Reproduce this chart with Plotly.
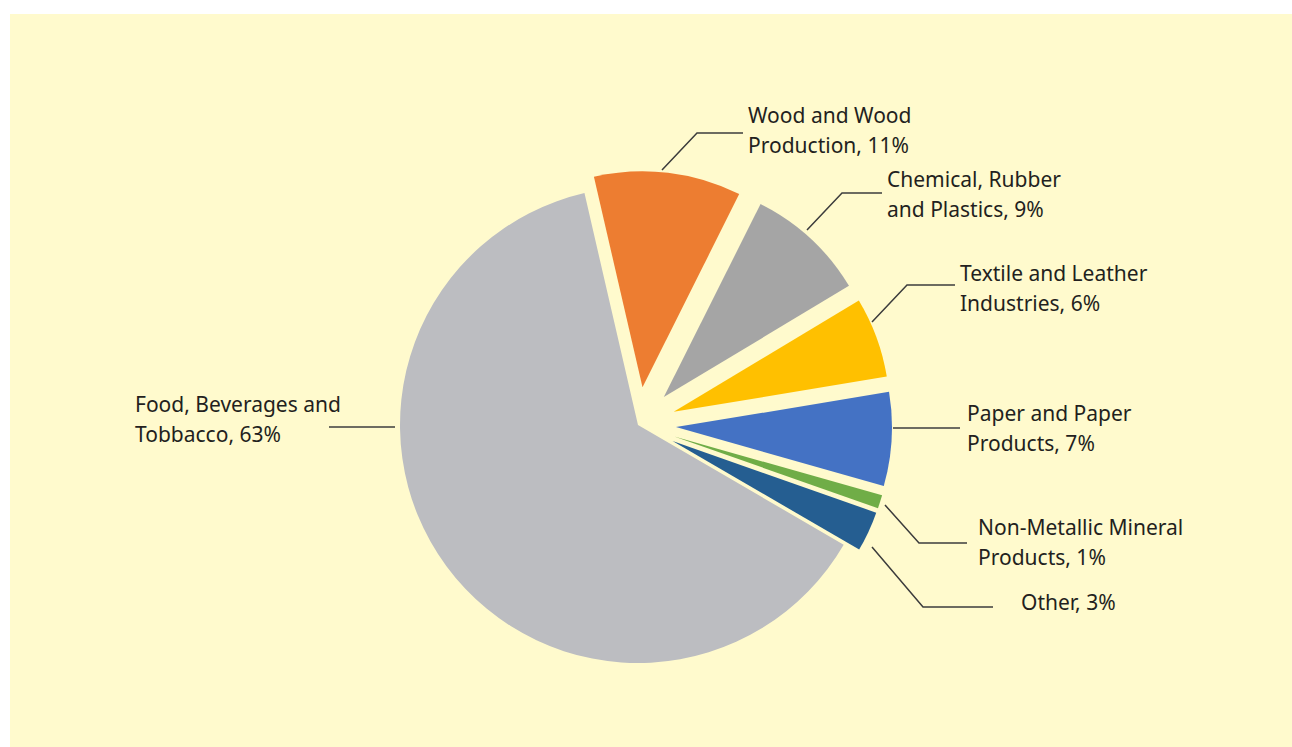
import plotly.graph_objects as go

# ---------------- data ----------------
categories = [
    "Wood and Wood Production",
    "Chemical, Rubber and Plastics",
    "Textile and Leather Industries",
    "Paper and Paper Products",
    "Non-Metallic Mineral Products",
    "Other",
    "Food, Beverages and Tobbacco",
]
shares = [11, 9, 6, 7, 1, 3, 63]
label_line1 = ["Wood and Wood", "Chemical, Rubber", "Textile and Leather",
               "Paper and Paper", "Non-Metallic Mineral", "", "Food, Beverages and"]
label_line2 = ["Production", "and Plastics", "Industries",
               "Products", "Products", "Other", "Tobbacco"]
colors = ["#ED7D31", "#A5A5A5", "#FFC000", "#4472C4", "#70AD47", "#255E91", "#BCBDC1"]
exploded = [True, True, True, True, True, True, False]

# ---------------- layout constants (pixels) ----------------
W, H = 1292, 747
BG = "#FFFACD"
TXT = "#231F20"
LINE = "#3C3C3C"
CX, CY = 638, 425          # pie centre
R_MAIN = 238               # radius of the unexploded slice
R_PULLED = 216             # radius of the exploded slices
PULL = 0.176               # exploded offset as fraction of radius
ROT = -13
LINE_H = 29.5              # label line spacing

label_pos = [(746, 130), (885, 194), (958, 288), (965, 428), (976, 542), (1019, 602), (133, 419)]
leaders = [
    [(662, 170), (697, 133), (743, 133)],
    [(807, 230), (842, 193), (882, 193)],
    [(872, 322), (907, 285), (955, 285)],
    [(893, 428), (960, 428)],
    [(885, 505), (919, 543), (967, 543)],
    [(872, 547), (923, 607), (993, 607)],
    [(329, 427), (395, 427)],
]


def px(x):
    return x / W


def py(y):
    return 1 - y / H


fig = go.Figure()

# unexploded slice (Food)
half1 = R_MAIN
fig.add_trace(go.Pie(
    labels=categories, values=shares, sort=False, direction="clockwise", rotation=ROT,
    marker=dict(colors=[c if not e else "rgba(0,0,0,0)" for c, e in zip(colors, exploded)],
                line=dict(width=0)),
    textinfo="none", hoverinfo="label+percent", showlegend=False,
    domain=dict(x=[px(CX - half1), px(CX + half1)], y=[py(CY + half1), py(CY - half1)]),
))

# exploded slices
half2 = R_PULLED * (1 + PULL)
fig.add_trace(go.Pie(
    labels=categories, values=shares, sort=False, direction="clockwise", rotation=ROT,
    marker=dict(colors=[c if e else "rgba(0,0,0,0)" for c, e in zip(colors, exploded)],
                line=dict(width=0)),
    pull=[PULL if e else 0 for e in exploded],
    textinfo="none", hoverinfo="label+percent", showlegend=False,
    domain=dict(x=[px(CX - half2), px(CX + half2)], y=[py(CY + half2), py(CY - half2)]),
))

shapes = [dict(type="rect", xref="paper", yref="paper", x0=px(10), x1=1, y0=0, y1=py(14),
               fillcolor=BG, line=dict(width=0), layer="below")]
for pts in leaders:
    path = "M " + " L ".join(f"{px(x)},{py(y)}" for x, y in pts)
    shapes.append(dict(type="path", xref="paper", yref="paper", path=path,
                       line=dict(color=LINE, width=1.5)))

annotations = []
for l1, l2, v, (x, y) in zip(label_line1, label_line2, shares, label_pos):
    lines = ([l1] if l1 else []) + [f"{l2}, {v}%"]
    n = len(lines)
    for k, t in enumerate(lines):
        yy = y + (k - (n - 1) / 2) * LINE_H
        annotations.append(dict(x=px(x), y=py(yy), xref="paper", yref="paper", text=t,
                                showarrow=False, xanchor="left", yanchor="middle", align="left",
                                font=dict(family="Noto Sans", size=21, color=TXT)))

fig.update_layout(
    width=W, height=H, autosize=False,
    margin=dict(l=0, r=0, t=0, b=0),
    paper_bgcolor="white", plot_bgcolor="white",
    shapes=shapes, annotations=annotations,
)

fig.write_html("out.html", config={"displayModeBar": False},
               post_script="document.body.style.margin='0';document.body.style.overflow='hidden';")
